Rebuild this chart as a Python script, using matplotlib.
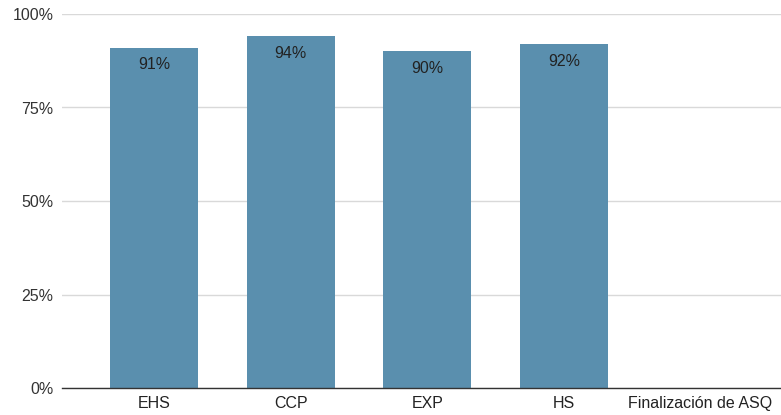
import matplotlib
matplotlib.use('Agg')
import matplotlib.pyplot as plt
import numpy as np

plt.rcParams['font.family'] = ['Liberation Sans', 'DejaVu Sans']

# Data
categories = ['EHS', 'CCP', 'EXP', 'HS', 'Finalización de ASQ']
values = [91, 94, 90, 92, np.nan]
yticks = [0, 25, 50, 75, 100]
ytick_labels = ['0%', '25%', '50%', '75%', '100%']

bar_color = '#5a8fae'

fig = plt.figure(figsize=(7.81, 4.15), dpi=100)
ax = fig.add_axes([62 / 781, 27 / 415, 1 - 62 / 781, (388 - 14) / 415])

x = np.arange(len(categories))
bars = ax.bar(x, values, width=0.645, color=bar_color, zorder=3)

# Value labels inside the top of each bar
for xi, v in zip(x, values):
    if not np.isnan(v):
        ax.text(xi, v - 2.6, f'{v:.0f}%', ha='center', va='top',
                fontsize=11.5, color='#222222', zorder=4)

ax.set_xlim(-0.674, 4.59)
ax.set_ylim(0, 100)
ax.set_xticks(x)
ax.set_xticklabels(categories, fontsize=11.5, color='#222222')
ax.set_yticks(yticks)
ax.set_yticklabels(ytick_labels, fontsize=11.5, color='#333333')

# Gridlines
ax.grid(axis='y', color='#d9d9d9', linewidth=1, zorder=0)
ax.set_axisbelow(True)
ax.tick_params(axis='x', length=0, pad=6)
ax.tick_params(axis='y', length=0, pad=6)

for side in ['top', 'right', 'left']:
    ax.spines[side].set_visible(False)
ax.spines['bottom'].set_color('#333333')
ax.spines['bottom'].set_linewidth(1)
ax.spines['bottom'].set_zorder(5)

fig.savefig('out.png', dpi=100)
